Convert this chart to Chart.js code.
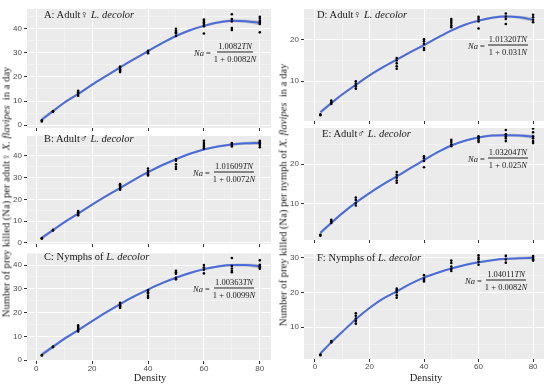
<!DOCTYPE html>
<html>
<head>
<meta charset="utf-8">
<script src="https://cdn.jsdelivr.net/npm/chart.js@4.4.1/dist/chart.umd.min.js"></script>
<style>
  body { margin: 0; background: #fff; width: 550px; height: 384px; position: relative; overflow: hidden; font-family: "Liberation Serif", "DejaVu Serif", serif; color: #1a1a1a; }
  canvas { position: absolute; }
  .lab { position: absolute; font-size: 10.5px; white-space: nowrap; line-height: 12px; }
  .eq { position: absolute; font-size: 8.5px; display: flex; align-items: center; white-space: nowrap; transform: translateY(-50%); }
  .frac { display: inline-flex; flex-direction: column; align-items: center; margin-left: 3px; line-height: 10px; }
  .frac .num { border-bottom: 0.8px solid #222; padding: 0 1px 1px; }
  .frac .den { padding-top: 1px; }
  .ytitle { position: absolute; font-size: 10.6px; white-space: nowrap; transform: translate(-50%, -50%) rotate(-90deg); }
  .xtitle { position: absolute; font-size: 10.5px; transform: translate(-50%, -50%); }
</style>
</head>
<body>
<canvas id="cA"></canvas>
<canvas id="cB"></canvas>
<canvas id="cC"></canvas>
<canvas id="cD"></canvas>
<canvas id="cE"></canvas>
<canvas id="cF"></canvas>

<div class="ytitle" style="left:6px; top:192px;">Number of prey killed (Na) per adult♀ <i>X. flavipes</i>&nbsp; in a day</div>
<div class="ytitle" style="left:283px; top:195px;">Number of prey killed (Na) per nymph of <i>X. flavipes</i>&nbsp; in a day</div>
<div class="xtitle" style="left:150px; top:377px;">Density</div>
<div class="xtitle" style="left:426px; top:377px;">Density</div>

<div class="lab" style="left:44px; top:9px;">A: Adult♀ <i>L. decolor</i></div>
<div class="lab" style="left:44px; top:133px;">B: Adult♂ <i>L. decolor</i></div>
<div class="lab" style="left:44px; top:251px;">C: Nymphs of <i>L. decolor</i></div>
<div class="lab" style="left:317px; top:9px;">D: Adult♀ <i>L. decolor</i></div>
<div class="lab" style="left:322px; top:128px;">E: Adult♂ <i>L. decolor</i></div>
<div class="lab" style="left:317px; top:252px;">F: Nymphs of <i>L. decolor</i></div>

<div class="eq" style="left:194px; top:52px;"><i>Na</i>&nbsp;=<span class="frac"><span class="num">1.0082<i>TN</i></span><span class="den">1 + 0.0082<i>N</i></span></span></div>
<div class="eq" style="left:193px; top:172px;"><i>Na</i>&nbsp;=<span class="frac"><span class="num">1.01609<i>TN</i></span><span class="den">1 + 0.0072<i>N</i></span></span></div>
<div class="eq" style="left:193px; top:288px;"><i>Na</i>&nbsp;=<span class="frac"><span class="num">1.00363<i>TN</i></span><span class="den">1 + 0.0099<i>N</i></span></span></div>
<div class="eq" style="left:468px; top:45px;"><i>Na</i>&nbsp;=<span class="frac"><span class="num">1.01320<i>TN</i></span><span class="den">1 + 0.031<i>N</i></span></span></div>
<div class="eq" style="left:468px; top:158px;"><i>Na</i>&nbsp;=<span class="frac"><span class="num">1.03204<i>TN</i></span><span class="den">1 + 0.025<i>N</i></span></span></div>
<div class="eq" style="left:465px; top:280px;"><i>Na</i>&nbsp;=<span class="frac"><span class="num">1.04011<i>TN</i></span><span class="den">1 + 0.0082<i>N</i></span></span></div>

<script>
// prey densities offered
const density = [2, 6, 15, 30, 40, 50, 60, 70, 80];
const fitX = [2, 6, 10, 15, 20, 25, 30, 35, 40, 45, 50, 55, 60, 65, 70, 75, 80];

// replicates per density
const preyA = [[1.5, 2.0], [5.5, 5.8], [12.2, 13, 13.6, 14.2], [22, 22.6, 23.2, 23.8, 24.3], [29.8, 30.3, 30.8],
  [37, 38, 38.6, 39.2, 40], [38, 41, 42, 42.6, 43.2, 43.8], [39.5, 40.3, 43, 44, 46], [38.5, 42, 42.6, 43.2, 44.2, 45]];
const preyB = [[1.9, 2.1], [5.6, 5.9], [12.6, 13.2, 14, 14.6], [24.4, 25, 25.8, 26.5, 27], [31, 31.6, 32.2, 33.2, 34.2],
  [34, 35, 36.2, 37.8, 38.6], [43.4, 44.2, 45, 46, 47], [44.4, 45, 45.5, 46], [44, 45, 45.8, 46.4, 47]];
const preyC = [[1.9, 2.1], [5.4, 5.7], [12, 12.8, 13.5, 14, 14.6], [22, 22.6, 23.1, 23.6, 24.1], [26.2, 27, 28, 28.6, 29.4],
  [34, 34.6, 36.4, 37, 37.6], [36.5, 38, 39, 40], [37, 37.6, 38.6, 39.6, 43], [38.5, 39, 39.5, 40.1, 42]];
const preyD = [[1.8, 2.0], [4.5, 4.9, 5.3], [8.2, 8.8, 9.4, 10], [13, 13.6, 14.3, 15, 15.6], [17.5, 18, 19, 19.6, 20.1],
  [23, 23.5, 24, 24.5, 25], [22.7, 24.4, 25, 25.5], [23.8, 25, 25.6, 26.3], [24.2, 24.8, 25.4, 26]];
const preyE = [[2, 2.2], [5.2, 5.6, 6], [9.6, 10.2, 11, 11.6], [15.3, 15.9, 16.6, 17.3, 18], [19.2, 20.8, 21.5, 22],
  [24.5, 25, 25.6, 26.1], [25.6, 26, 26.5, 27], [25.8, 26.5, 27, 27.5, 28.6], [25.3, 25.8, 26.5, 27, 28, 29]];
const preyF = [[1.9, 2.1], [5.6, 6], [11, 11.8, 12.5, 13.3, 14], [18.5, 19.2, 20, 20.6, 21.1], [23.2, 23.6, 24, 25],
  [26.2, 26.8, 27.5, 28.5, 29.2], [28, 28.8, 29.5, 30, 30.7], [28.6, 29.5, 30.5, 31.3], [29.2, 29.6, 30, 30.5]];

// smooth (loess) line values at fitX
const fitA = [2.3, 5.8, 9.3, 12.9, 16.8, 20.4, 24, 27.4, 30.7, 34, 37, 39.4, 41.2, 42.6, 43.3, 43.1, 42.4];
const fitB = [2.2, 5.8, 9.4, 13.4, 17.6, 21.5, 25.2, 29, 32.5, 35.7, 38.5, 41, 43, 44.4, 45.3, 45.8, 46];
const fitC = [2.3, 5.6, 8.9, 12.6, 16.4, 20.1, 23.6, 26.8, 29.7, 32.4, 34.7, 36.7, 38.3, 39.4, 40, 40, 39.5];
const fitD = [2.5, 4.7, 6.8, 9.1, 11.4, 13.4, 15.2, 17, 18.7, 20.5, 22.2, 23.6, 24.6, 25.3, 25.6, 25.4, 24.8];
const fitE = [2.7, 5.2, 7.6, 10.3, 12.7, 14.9, 16.9, 19, 21, 23, 24.7, 25.9, 26.7, 27.2, 27.3, 27.2, 26.9];
const fitF = [2.4, 5.6, 8.6, 12.3, 15.5, 18.2, 20.3, 22.5, 24.3, 25.7, 26.9, 27.9, 28.7, 29.3, 29.7, 29.9, 30];

// half width of the grey confidence band
const seLeft = [0.9, 0.7, 0.55, 0.5, 0.45, 0.45, 0.45, 0.45, 0.45, 0.45, 0.45, 0.5, 0.5, 0.55, 0.6, 0.7, 1.0];
const seRight = [0.5, 0.4, 0.3, 0.28, 0.25, 0.25, 0.25, 0.25, 0.25, 0.25, 0.25, 0.25, 0.28, 0.3, 0.35, 0.4, 0.55];

// axis limits
const xLimLeft = [-3.3, 84], xLimRight = [-4, 84];
const yLimA = [-1.2, 48.2], yLimB = [-0.6, 49.2], yLimC = [-0.4, 45.1];
const yLimD = [0.4, 27.4], yLimE = [0.9, 29.1], yLimF = [0.8, 31.1];

const panelBg = {
  id: 'panelBg',
  beforeDraw(chart) {
    const a = chart.chartArea, ctx = chart.ctx;
    ctx.save();
    ctx.fillStyle = '#EBEBEB';
    ctx.fillRect(a.left, a.top, a.right - a.left, a.bottom - a.top);
    ctx.restore();
  }
};

const tickFont = {family: '"Liberation Sans", Arial, sans-serif', size: 8};

function makePanel(id, left, top, plotW, plotH, xlim, ylim, reps, fit, se, bottom) {
  const yW = 25;
  const xH = bottom ? 13 : 3;
  const cv = document.getElementById(id);
  cv.width = plotW + yW;
  cv.height = plotH + xH;
  cv.style.left = (left - yW) + 'px';
  cv.style.top = top + 'px';

  const pts = [];
  for (let i = 0; i < density.length; i++) {
    for (let j = 0; j < reps[i].length; j++) {
      pts.push({x: density[i], y: reps[i][j]});
    }
  }
  const line = fitX.map((x, i) => ({x: x, y: fit[i]}));
  const lo = fitX.map((x, i) => ({x: x, y: fit[i] - se[i]}));
  const hi = fitX.map((x, i) => ({x: x, y: fit[i] + se[i]}));

  return new Chart(cv, {
    type: 'line',
    data: {
      datasets: [
        {data: lo, borderWidth: 0, pointRadius: 0, fill: false, cubicInterpolationMode: 'monotone', order: 3},
        {data: hi, borderWidth: 0, pointRadius: 0, fill: '-1', backgroundColor: 'rgba(153,153,153,0.45)', cubicInterpolationMode: 'monotone', order: 2},
        {data: line, borderColor: '#4A6CDB', borderWidth: 2, pointRadius: 0, fill: false, cubicInterpolationMode: 'monotone', order: 1},
        {data: pts, showLine: false, pointRadius: 1.3, pointBorderWidth: 0, pointBackgroundColor: '#000', order: 0}
      ]
    },
    options: {
      responsive: false,
      devicePixelRatio: 1,
      animation: false,
      layout: {padding: 0},
      plugins: {legend: {display: false}, tooltip: {enabled: false}},
      scales: {
        x: {
          type: 'linear', min: xlim[0], max: xlim[1],
          afterFit(s) { s.height = xH; s.paddingLeft = 0; s.paddingRight = 0; },
          border: {display: false},
          grid: {
            color: c => c.tick.value % 20 === 0 ? '#FFFFFF' : '#F7F7F7',
            lineWidth: c => c.tick.value % 20 === 0 ? 1 : 0.6,
            tickColor: c => c.tick.value % 20 === 0 ? '#333333' : 'rgba(0,0,0,0)',
            tickLength: 3
          },
          ticks: {
            stepSize: 10, autoSkip: false, maxRotation: 0, padding: 0,
            includeBounds: false, color: '#4D4D4D', font: tickFont,
            callback: v => (bottom && v % 20 === 0) ? v : ''
          }
        },
        y: {
          min: ylim[0], max: ylim[1],
          afterFit(s) { s.width = yW; s.paddingTop = 0; s.paddingBottom = 0; },
          border: {display: false},
          grid: {
            color: c => c.tick.value % 10 === 0 ? '#FFFFFF' : '#F7F7F7',
            lineWidth: c => c.tick.value % 10 === 0 ? 1 : 0.6,
            tickColor: c => c.tick.value % 10 === 0 ? '#333333' : 'rgba(0,0,0,0)',
            tickLength: 3
          },
          ticks: {
            stepSize: 5, autoSkip: false, padding: 2,
            includeBounds: false, color: '#4D4D4D', font: tickFont,
            callback: v => v % 10 === 0 ? v : ''
          }
        }
      }
    },
    plugins: [panelBg]
  });
}

makePanel('cA', 27, 5, 248, 124, xLimLeft, yLimA, preyA, fitA, seLeft, false);
makePanel('cB', 27, 132, 248, 113, xLimLeft, yLimB, preyB, fitB, seLeft, false);
makePanel('cC', 27, 249, 248, 112, xLimLeft, yLimC, preyC, fitC, seLeft, true);
makePanel('cD', 304, 5, 244, 117, xLimRight, yLimD, preyD, fitD, seRight, false);
makePanel('cE', 304, 124, 244, 117, xLimRight, yLimE, preyE, fitE, seRight, false);
makePanel('cF', 304, 250, 244, 109, xLimRight, yLimF, preyF, fitF, seRight, true);
</script>
</body>
</html>
